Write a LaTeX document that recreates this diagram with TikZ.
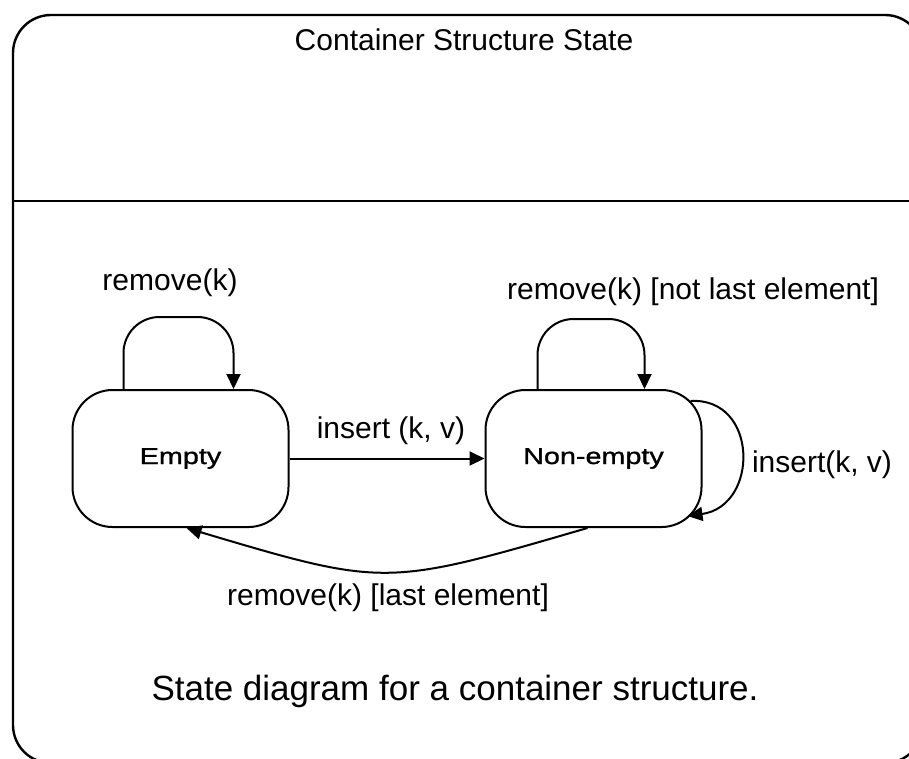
\documentclass[tikz,border=0pt]{standalone}
\usepackage{fontspec}
\setmainfont{Liberation Sans}
\newfontfamily\stfont[FakeStretch=1.25,FakeBold=1.2]{Liberation Sans}
\usetikzlibrary{arrows.meta,calc}
\begin{document}
\begin{tikzpicture}[x=1pt,y=-1pt,
  frame/.style={line width=2.4pt},
  state/.style={draw, line width=2pt, rounded corners=40pt, minimum width=216pt,
    minimum height=137pt, font=\stfont\fontsize{23}{26}\selectfont},
  lbl/.style={font=\fontsize{30}{34}\selectfont, inner sep=0pt},
  arr/.style={line width=2pt, -{Triangle[length=15pt,width=14pt]}}]
\clip (0,0) rectangle (909,758);
\draw[frame, rounded corners=38pt] (13,15) rectangle (923,763);
\draw[frame] (13,201) -- (923,201);
\node[lbl] (title) at (464,40) {Container Structure State};

\node[state] (E) at (180.5,458.5) {Empty};
\node[state] (N) at (593.5,458.5) {Non-empty};

% self loops on top
\draw[arr, rounded corners=36pt] ([xshift=52pt]E.north west) -- ++(0,-72) -| ([xshift=162pt]E.north west);
\draw[arr, rounded corners=36pt] ([xshift=53pt]N.north west) -- ++(0,-70) -| ([xshift=160pt]N.north west);
% right self loop
\draw[arr] ([xshift=-12pt,yshift=-12pt]N.north east) .. controls +(68,-4) and +(72,-10) .. ([xshift=-15pt,yshift=12pt]N.south east);
% insert
\draw[arr] (E.east) -- (N.west);
% bottom arc
\draw[arr] ([xshift=-6pt]N.south) .. controls (385,587) .. ([xshift=6pt]E.south);

\node[lbl] (l1) at (170,283) {remove(k)};
\node[lbl] (l2) at (391,431) {insert (k, v)};
\node[lbl] (l3) at (693,292) {remove(k) [not last element]};
\node[lbl] (l4) at (822,465) {insert(k, v)};
\node[lbl] (l5) at (388,598) {remove(k) [last element]};
\node[font=\fontsize{35}{40}\selectfont, inner sep=0pt] (cap) at (455,691) {State diagram for a container structure.};
\end{tikzpicture}
\end{document}
